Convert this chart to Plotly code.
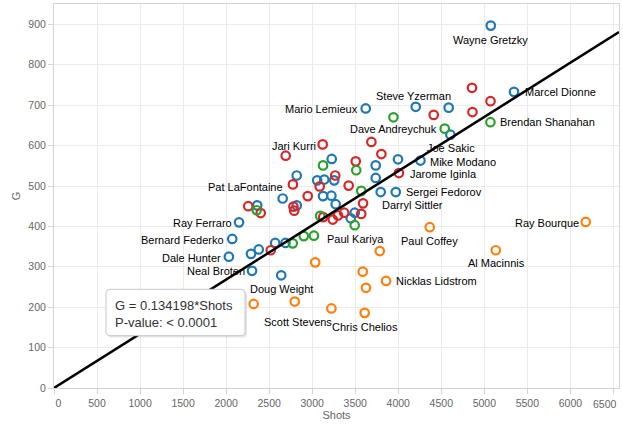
import plotly.graph_objects as go

# ---------------- data ----------------
SLOPE = 0.134198

# Centers (blue)
center_shots = [5075, 5345, 3622, 4203, 4586, 4606, 4258, 3997, 3738, 3738,
                3971, 3796, 3227, 2820, 3058, 3140, 3256, 2657, 3126, 3223,
                3273, 2820, 2361, 3494, 3448, 2150, 2071, 2570, 2690, 2379,
                2289, 2032, 2301, 2640]
center_goals = [897, 733, 692, 696, 694, 627, 563, 566, 551, 520,
                485, 485, 567, 526, 514, 516, 514, 469, 475, 476,
                455, 452, 452, 434, 420, 410, 369, 359, 359, 343,
                332, 325, 290, 279]
center_names = ["Wayne Gretzky", "Marcel Dionne", "Mario Lemieux", "", "Steve Yzerman",
                "Joe Sakic", "Mike Modano", "", "", "",
                "Sergei Fedorov", "", "", "", "", "", "", "", "", "",
                "", "", "", "", "", "Ray Ferraro", "Bernard Federko", "", "", "",
                "", "Dale Hunter", "Neal Broten", "Doug Weight"]

# Right wings (red)
right_shots = [4857, 5072, 4862, 4412, 3688, 3122, 2692, 3804, 3506, 4008,
               3268, 2776, 3087, 3424, 2948, 3591, 2257, 2402, 2782, 2791,
               3128, 3239, 3300, 3372, 3570, 2518]
right_goals = [743, 710, 683, 676, 609, 603, 575, 579, 561, 532,
               526, 504, 499, 501, 475, 457, 450, 433, 449, 439,
               423, 417, 427, 434, 431, 341]
right_names = ["", "", "", "", "", "Jari Kurri", "", "", "", "Jarome Iginla",
               "", "Pat LaFontaine", "", "", "", "Darryl Sittler", "", "", "", "",
               "", "", "", "", "", ""]

# Left wings (green)
left_shots = [5071, 3944, 4540, 3126, 3512, 3570, 2355, 3093, 3494, 2902, 3020, 2774]
left_goals = [658, 670, 642, 551, 539, 488, 440, 426, 403, 376, 377, 358]
left_names = ["Brendan Shanahan", "", "Dave Andreychuk", "", "", "", "", "",
              "Paul Kariya", "", "", ""]

# Defense (orange)
defense_shots = [6178, 4366, 5133, 3785, 3035, 3587, 3858, 3625, 2797, 2320, 3223, 3610]
defense_goals = [411, 398, 341, 339, 311, 288, 265, 248, 214, 208, 197, 186]
defense_names = ["Ray Bourque", "Paul Coffey", "Al Macinnis", "", "", "",
                 "Nicklas Lidstrom", "", "", "", "Scott Stevens", "Chris Chelios"]

x_ticks = list(range(0, 7000, 500))
x_tick_labels = [str(v) for v in x_ticks]
y_ticks = list(range(0, 1000, 100))

# ---------------- layout / style ----------------
W, H = 623, 428
ML, MR, MT, MB = 54, 4, 4, 40
X_RANGE = [0, 6565]
Y_RANGE = [0, 950.5]
FONT = "Arial, Liberation Sans, sans-serif"
NBSP = "\u00a0"
TICK_FONT = dict(family=FONT, size=10.5, color="#666666")

# end tick labels are nudged inward (as in the original); the last one is
# right-aligned to its tick so it stays inside the picture
x_tick_text = list(x_tick_labels)
x_tick_text[0] = NBSP * 3 + x_tick_text[0]
last_tick_label = x_tick_text[-1]
x_tick_text[-1] = ""

# label placement: (xanchor, xshift px, yshift px)
LABEL_POS = {
    "Wayne Gretzky": ("center", 0, -14.5),
    "Marcel Dionne": ("left", 10.7, -0.5),
    "Mario Lemieux": ("right", -8, -1),
    "Steve Yzerman": ("center", -35, 11.6),
    "Dave Andreychuk": ("right", -7.7, -0.4),
    "Brendan Shanahan": ("left", 10, -0.3),
    "Joe Sakic": ("center", 0.3, -13.8),
    "Mike Modano": ("left", 10, -1.3),
    "Jarome Iginla": ("left", 10.8, -0.5),
    "Sergei Fedorov": ("left", 10, -0.2),
    "Darryl Sittler": ("left", 19.4, -2),
    "Jari Kurri": ("right", -7, -1.2),
    "Pat LaFontaine": ("right", -10, -2.3),
    "Ray Ferraro": ("right", -7, -1),
    "Bernard Federko": ("right", -8.5, -0.7),
    "Dale Hunter": ("right", -8, -1),
    "Neal Broten": ("right", -6.6, -0.2),
    "Doug Weight": ("center", 0, -13.5),
    "Scott Stevens": ("right", 0.6, -13.3),
    "Chris Chelios": ("center", 0.3, -13.7),
    "Paul Kariya": ("center", 1, -13.6),
    "Paul Coffey": ("center", 0, -13.5),
    "Al Macinnis": ("center", 0.7, -13.2),
    "Nicklas Lidstrom": ("left", 10.4, -0.5),
    "Ray Bourque": ("right", -6.7, -0.7),
}

series = [
    ("Center", center_shots, center_goals, center_names, "#1f77b4"),
    ("Right Wing", right_shots, right_goals, right_names, "#d62728"),
    ("Left Wing", left_shots, left_goals, left_names, "#2ca02c"),
    ("Defense", defense_shots, defense_goals, defense_names, "#ff7f0e"),
]

fig = go.Figure()
annotations = []
for name, xs, ys, names, color in series:
    fig.add_trace(go.Scatter(
        x=xs, y=ys, mode="markers", name=name,
        marker=dict(symbol="circle-open", size=8.5, color=color,
                    line=dict(width=2.2, color=color)),
        showlegend=False, hoverinfo="skip"))
    for xv, yv, nm in zip(xs, ys, names):
        if nm:
            anchor, dx, dy = LABEL_POS[nm]
            annotations.append(dict(
                x=xv, y=yv, xref="x", yref="y", text=nm, showarrow=False,
                xanchor=anchor, yanchor="middle", xshift=dx, yshift=dy,
                font=dict(family=FONT, size=11, color="#000000"),
                borderpad=0, borderwidth=0))

# regression line
fig.add_trace(go.Scatter(
    x=[X_RANGE[0], X_RANGE[1]], y=[SLOPE * X_RANGE[0], SLOPE * X_RANGE[1]],
    mode="lines", line=dict(color="black", width=2.5),
    showlegend=False, hoverinfo="skip"))

# last x tick label, right-aligned at its tick
annotations.append(dict(
    x=x_ticks[-1], y=0, xref="x", yref="paper", text=last_tick_label,
    showarrow=False, xanchor="right", yanchor="middle", xshift=4, yshift=-15.5,
    font=TICK_FONT, borderpad=0, borderwidth=0))

# stats box (pixel geometry -> paper coords)
PW, PH = W - ML - MR, H - MT - MB
def pxx(px):
    return (px - ML) / PW
def pxy(py):
    return (H - MB - py) / PH

def rounded_rect(x0, y0, x1, y1, r):
    return (f"M {pxx(x0 + r)} {pxy(y0)} L {pxx(x1 - r)} {pxy(y0)} "
            f"Q {pxx(x1)} {pxy(y0)} {pxx(x1)} {pxy(y0 + r)} "
            f"L {pxx(x1)} {pxy(y1 - r)} Q {pxx(x1)} {pxy(y1)} {pxx(x1 - r)} {pxy(y1)} "
            f"L {pxx(x0 + r)} {pxy(y1)} Q {pxx(x0)} {pxy(y1)} {pxx(x0)} {pxy(y1 - r)} "
            f"L {pxx(x0)} {pxy(y0 + r)} Q {pxx(x0)} {pxy(y0)} {pxx(x0 + r)} {pxy(y0)} Z")

shapes = [
    dict(type="path", xref="paper", yref="paper",
         path=rounded_rect(107.5, 290.8, 247, 337.5, 4),
         fillcolor="rgba(0,0,0,0.10)", line=dict(width=0)),
    dict(type="path", xref="paper", yref="paper",
         path=rounded_rect(106, 289.3, 245, 335.7, 4),
         fillcolor="white", line=dict(color="#c8c8c8", width=1)),
]
annotations.append(dict(
    x=pxx(115), y=pxy(313.5), xref="paper", yref="paper",
    text=f"G = {SLOPE}*Shots<br>P-value: < 0.0001", showarrow=False,
    xanchor="left", yanchor="middle", align="left",
    font=dict(family=FONT, size=13, color="#333333"),
    borderpad=0, borderwidth=0))

axis_common = dict(
    showgrid=True, gridcolor="#ebebeb", gridwidth=1,
    zeroline=False, showline=True, linecolor="#d4d4d4", linewidth=1, mirror=True,
    ticks="outside", ticklen=5, tickcolor="#d4d4d4",
    tickfont=TICK_FONT,
    automargin=False,
)

fig.update_layout(
    width=W, height=H,
    margin=dict(l=ML, r=MR, t=MT, b=MB, pad=0),
    paper_bgcolor="white", plot_bgcolor="white",
    xaxis=dict(range=X_RANGE, tickmode="array", tickvals=x_ticks, ticktext=x_tick_text,
               **axis_common,
               title=dict(text="Shots", standoff=3,
                          font=dict(family=FONT, size=11, color="#666666"))),
    yaxis=dict(range=Y_RANGE, tickvals=y_ticks, **axis_common,
               title=dict(text="G", standoff=5,
                          font=dict(family=FONT, size=11, color="#666666"))),
    shapes=shapes,
    annotations=annotations,
)

fig.write_html("out.html", config={"displayModeBar": False},
               post_script="document.body.style.margin='0px';document.body.style.padding='0px';")
